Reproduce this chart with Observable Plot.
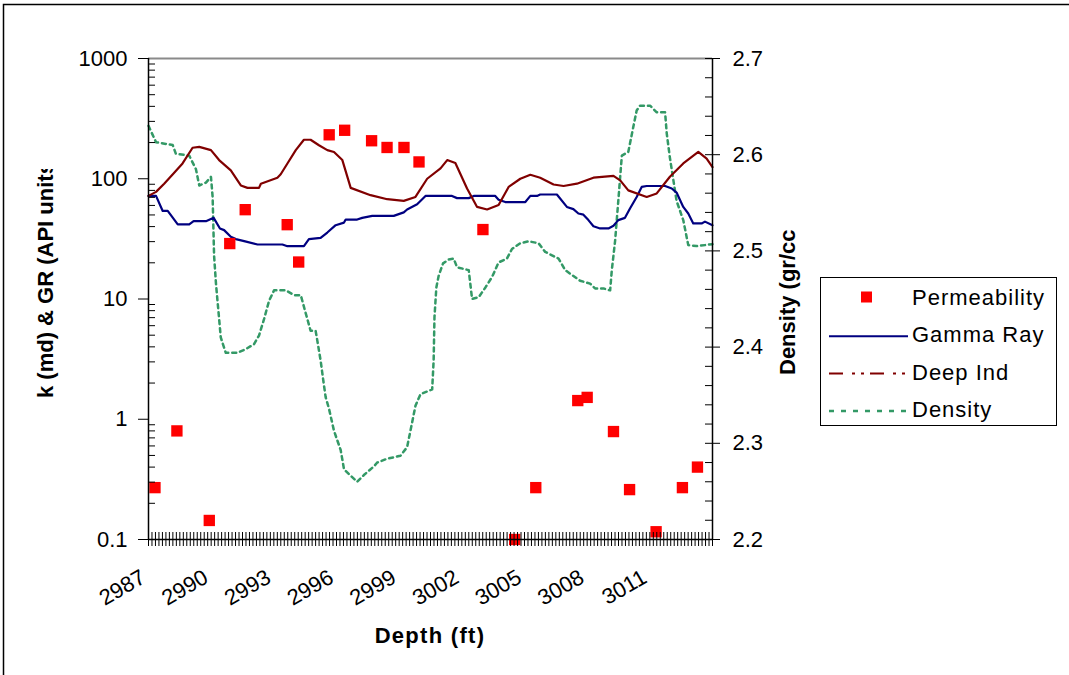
<!DOCTYPE html>
<html><head><meta charset="utf-8">
<script src="https://cdn.jsdelivr.net/npm/d3@7"></script>
<script src="https://cdn.jsdelivr.net/npm/@observablehq/plot@0.6"></script>
<style>
body{margin:0;background:#fff;font-family:"Liberation Sans",Arial,sans-serif;}
#wrap{position:relative;width:1069px;height:675px;overflow:hidden;background:#fff;}
#wrap svg{position:absolute;left:0;top:0;}
#legend{position:absolute;left:820px;top:277px;width:237px;height:149px;border:1px solid #000;box-sizing:border-box;background:#fff;}
</style></head><body><div id="wrap"></div>
<script>
// ---- data ----
const grDepth = [2987, 2987.36, 2987.68, 2987.92, 2988.40, 2988.95, 2989.16, 2989.75, 2990.12, 2990.42, 2990.62, 2990.94, 2991.18, 2991.58, 2992.22, 2993.41, 2993.65, 2994.44, 2994.68, 2995.24, 2995.56, 2995.96, 2996.36, 2996.44, 2996.99, 2997.23, 2997.71, 2998.74, 2999.22, 2999.38, 2999.86, 3000.26, 3001.53, 3001.77, 3002.33, 3002.57, 3003.60, 3003.76, 3004.08, 3005.04, 3005.28, 3005.60, 3005.75, 3006.55, 3007.03, 3007.34, 3007.58, 3007.82, 3008.06, 3008.30, 3008.62, 3009.02, 3009.26, 3009.49, 3009.81, 3010.05, 3010.37, 3010.61, 3010.85, 3011.73, 3012.05, 3012.28, 3012.60, 3012.84, 3013.08, 3013.48, 3013.64, 3014];
const grValue = [72, 72, 54, 54, 41.7, 41.7, 44.4, 44.4, 47.3, 38.6, 37.4, 32.9, 31.5, 30.3, 28.4, 28.4, 27.5, 27.5, 31.5, 32.2, 35.7, 41.1, 43.2, 45.8, 45.8, 47.3, 49.1, 49.1, 52.5, 55.5, 61.4, 72, 72, 69, 69, 72, 72, 67, 64, 64, 72, 72, 74, 74, 58.3, 55.9, 51.4, 50.3, 45.3, 40.3, 38.6, 38.6, 40.6, 45.3, 47.3, 56.6, 70.6, 85.5, 87, 87, 83, 76.8, 58.3, 51.4, 42.5, 42.5, 44, 41];

const deepDepth = [2987, 2987.36, 2987.75, 2988.23, 2988.63, 2989.11, 2989.43, 2989.99, 2990.38, 2990.94, 2991.42, 2991.74, 2992.29, 2992.38, 2993.17, 2993.33, 2993.65, 2994.05, 2994.44, 2994.76, 2995.16, 2995.56, 2995.88, 2996.28, 2996.68, 2997.63, 2998.43, 2999.22, 2999.78, 3000.34, 3000.98, 3001.30, 3001.69, 3002.25, 3002.73, 3003.21, 3003.76, 3004.24, 3004.80, 3005.28, 3005.75, 3006.39, 3006.87, 3007.51, 3008.30, 3009.26, 3009.58, 3009.97, 3010.85, 3011.33, 3011.96, 3012.60, 3013.32, 3013.72, 3014];
const deepValue = [72, 77.8, 91, 112, 134, 181, 184, 173, 143, 117.5, 88, 84, 84, 91, 102, 109, 134, 173, 211, 211, 190, 173, 167, 143, 84, 73, 67.6, 65.5, 70.6, 100, 122, 143, 135, 83, 58.3, 55.5, 60.5, 85.5, 100, 108, 102, 89.6, 87, 91, 102, 105.5, 97, 80, 70.6, 75.5, 104, 134, 167, 147, 125];

const denDepth = [2987, 2987.36, 2988.16, 2988.31, 2988.95, 2989.27, 2989.43, 2989.75, 2989.99, 2990.07, 2990.14, 2990.23, 2990.46, 2990.70, 2991.26, 2991.66, 2992.05, 2992.29, 2992.53, 2992.77, 2993.01, 2993.57, 2993.97, 2994.29, 2994.44, 2994.76, 2995.00, 2995.08, 2995.24, 2995.37, 2995.48, 2995.64, 2995.88, 2996.20, 2996.36, 2996.59, 2996.99, 2997.31, 2997.79, 2997.95, 2998.43, 2999.06, 2999.38, 2999.54, 2999.78, 3000.02, 3000.58, 3000.65, 3000.69, 3000.78, 3000.89, 3001.10, 3001.37, 3001.61, 3001.77, 3002.33, 3002.49, 3002.81, 3003.13, 3003.45, 3003.76, 3004.16, 3004.40, 3004.80, 3005.19, 3005.67, 3005.99, 3006.63, 3006.95, 3007.66, 3008.14, 3008.38, 3008.78, 3009.10, 3009.18, 3009.34, 3009.49, 3009.66, 3009.97, 3010.21, 3010.37, 3010.53, 3011.01, 3011.33, 3011.73, 3011.81, 3011.96, 3012.28, 3012.60, 3012.84, 3013.24, 3013.64, 3014];
const denValue = [2.63, 2.613, 2.610, 2.601, 2.599, 2.585, 2.568, 2.571, 2.577, 2.556, 2.495, 2.466, 2.410, 2.394, 2.394, 2.398, 2.403, 2.412, 2.429, 2.448, 2.459, 2.459, 2.454, 2.454, 2.442, 2.417, 2.417, 2.407, 2.386, 2.365, 2.348, 2.336, 2.313, 2.293, 2.273, 2.268, 2.260, 2.267, 2.276, 2.280, 2.284, 2.287, 2.296, 2.313, 2.339, 2.351, 2.356, 2.386, 2.431, 2.462, 2.474, 2.487, 2.491, 2.492, 2.483, 2.480, 2.450, 2.452, 2.462, 2.473, 2.488, 2.492, 2.502, 2.508, 2.510, 2.508, 2.499, 2.492, 2.480, 2.469, 2.466, 2.461, 2.461, 2.459, 2.480, 2.511, 2.552, 2.599, 2.603, 2.629, 2.646, 2.651, 2.651, 2.644, 2.644, 2.622, 2.597, 2.552, 2.532, 2.506, 2.505, 2.506, 2.507];

const permDepth = [2987.31, 2988.36, 2989.91, 2990.89, 2991.63, 2993.64, 2994.19, 2995.65, 2996.39, 2997.68, 2998.42, 2999.23, 2999.95, 3003.01, 3004.53, 3005.54, 3007.55, 3008.00, 3009.26, 3010.03, 3011.30, 3012.56, 3013.28];
const permValue = [0.27, 0.80, 0.144, 28.9, 55.3, 41.5, 20.3, 232, 253, 207, 182, 182, 138, 37.8, 0.1, 0.27, 1.43, 1.52, 0.79, 0.26, 0.116, 0.27, 0.40];

const xLabelTicks = [2987, 2990, 2993, 2996, 2999, 3002, 3005, 3008, 3011];
const leftTicks = [0.1, 1, 10, 100, 1000];
const rightTicks = [2.2, 2.3, 2.4, 2.5, 2.6, 2.7];

const seriesNames = ["Permeability", "Gamma Ray", "Deep Ind", "Density"];
const seriesColors = ["#ff0000", "#000080", "#800000", "#339966"];

// ---- layout ----
const W = 1069, H = 675, mL = 148, mR = 357, mT = 58, mB = 136;
const plotW = W - mL - mR, plotH = H - mT - mB;
const FONT = '"Liberation Sans", Arial, Helvetica, sans-serif';

// density (secondary axis 2.2..2.7) mapped onto the log primary axis 0.1..1000
const denToLeft = d => Math.pow(10, -1 + (d - 2.2) / 0.5 * 4);

const zip = (a, b) => a.slice(0, Math.min(a.length, b.length)).map((d, i) => ({depth: d, value: b[i]}));
const grData = zip(grDepth, grValue);
const deepData = zip(deepDepth, deepValue);
const denData = zip(denDepth, denValue);
const permData = zip(permDepth, permValue);

const xMinor = d3.range(0, 27 * 6 + 1).map(i => 2987 + i / 6);
const leftMinor = [];
for (let e = -1; e < 3; e++) for (let m = 2; m <= 9; m++) leftMinor.push(m * Math.pow(10, e));
const rightMinor = d3.range(110, 136).filter(i => i % 5 !== 0).map(i => i / 50);

const chart = Plot.plot({
  width: W, height: H,
  marginLeft: mL, marginRight: mR, marginTop: mT, marginBottom: mB,
  style: {fontFamily: FONT, fontSize: "22px", color: "#000", background: "#fff", overflow: "visible"},
  x: {domain: [2987, 3014], axis: null},
  y: {type: "log", domain: [0.1, 1000], axis: null},
  marks: [
    Plot.ruleY([1000], {stroke: "#8a8a8a", strokeWidth: 2}),
    // lines
    Plot.line(denData, {x: "depth", y: d => denToLeft(d.value), stroke: seriesColors[3], strokeWidth: 2.5, strokeDasharray: "4,4"}),
    Plot.line(grData, {x: "depth", y: "value", stroke: seriesColors[1], strokeWidth: 2.2}),
    Plot.line(deepData, {x: "depth", y: "value", stroke: seriesColors[2], strokeWidth: 2.2}),
    Plot.dot(permData, {x: "depth", y: "value", symbol: "square", r: 6.4, fill: seriesColors[0], stroke: null}),
    // x axis
    Plot.tickX(xMinor, {x: d => d, stroke: "#000", strokeWidth: 1, insetTop: plotH - 7, insetBottom: -7}),
    Plot.ruleY([0.1], {stroke: "#000", strokeWidth: 1.5}),
    Plot.text(xLabelTicks, {x: d => d, frameAnchor: "bottom", text: d => String(d), rotate: -30, textAnchor: "end", lineAnchor: "middle", dx: -5, dy: 36, fontSize: 22, fill: "#000"}),
    // left axis
    Plot.ruleX([2987], {stroke: "#000", strokeWidth: 1.5}),
    Plot.tickY(leftTicks, {y: d => d, stroke: "#000", insetLeft: -10, insetRight: plotW}),
    Plot.tickY(leftMinor, {y: d => d, stroke: "#000", insetRight: plotW - 7}),
    Plot.text(leftTicks, {y: d => d, frameAnchor: "left", text: d => String(d), textAnchor: "end", dx: -21, fontSize: 22, fill: "#000"}),
    // right axis
    Plot.ruleX([3014], {stroke: "#000", strokeWidth: 1.5}),
    Plot.tickY(rightTicks, {y: d => denToLeft(d), stroke: "#000", insetLeft: plotW - 7, insetRight: -8}),
    Plot.tickY(rightMinor, {y: d => denToLeft(d), stroke: "#000", insetLeft: plotW - 7}),
    Plot.text(rightTicks, {y: d => denToLeft(d), frameAnchor: "right", text: d => d.toFixed(1), textAnchor: "start", dx: 20, fontSize: 22, fill: "#000"})
  ]
});

const svg = d3.select(chart);
// chart-area border
svg.insert("rect", ":first-child").attr("x", 3.5).attr("y", 4.5).attr("width", 1200).attr("height", 1000)
  .attr("fill", "#fff").attr("stroke", "#000").attr("stroke-width", 1.5);
// axis titles
svg.append("text").attr("x", 430).attr("y", 643).attr("text-anchor", "middle")
  .style("font-family", FONT).style("font-weight", "bold").style("font-size", "22px").style("letter-spacing", "1.3px")
  .attr("fill", "#000").text("Depth (ft)");
svg.append("clipPath").attr("id", "ltclip").append("rect").attr("x", 0).attr("y", 169).attr("width", 140).attr("height", 500);
svg.append("g").attr("clip-path", "url(#ltclip)").append("text")
  .attr("transform", "translate(53,398) rotate(-90)").attr("text-anchor", "start")
  .style("font-family", FONT).style("font-weight", "bold").style("font-size", "22px")
  .attr("fill", "#000").text("k (md) & GR (API units");
svg.append("text").attr("transform", "translate(795,375) rotate(-90)").attr("text-anchor", "start")
  .style("font-family", FONT).style("font-weight", "bold").style("font-size", "22px")
  .attr("fill", "#000").text("Density (gr/cc");

const wrap = document.getElementById("wrap");
wrap.appendChild(chart);

// legend
const legend = document.createElement("div");
legend.id = "legend";
wrap.appendChild(legend);
const lsvg = d3.select(legend).append("svg").attr("width", 235).attr("height", 147).style("position", "absolute").style("left", "0").style("top", "0");
const dashes = [null, null, "14,9,3,6,3,6", "5,7"];
seriesNames.forEach((name, i) => {
  const cy = 19 + i * 37.3;
  if (i === 0) {
    lsvg.append("rect").attr("x", 40).attr("y", cy - 5.5).attr("width", 11).attr("height", 11).attr("fill", seriesColors[0]);
  } else {
    lsvg.append("line").attr("x1", 8).attr("x2", 87).attr("y1", cy + 2).attr("y2", cy + 2)
      .attr("stroke", seriesColors[i]).attr("stroke-width", i === 3 ? 2.5 : 2)
      .attr("stroke-dasharray", dashes[i]);
  }
  lsvg.append("text").attr("x", 91).attr("y", cy).attr("dy", "0.36em")
    .style("font-family", FONT).style("font-size", "22px").style("letter-spacing", "1px")
    .attr("fill", "#000").text(name);
});
</script>
</body></html>
